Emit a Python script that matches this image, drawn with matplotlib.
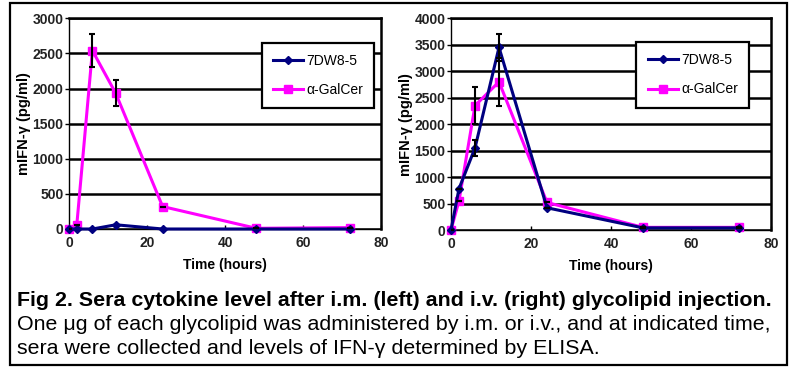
import matplotlib
matplotlib.use("Agg")
import matplotlib.pyplot as plt
from matplotlib.patches import Rectangle

plt.rcParams["font.family"] = ["Liberation Sans", "DejaVu Sans"]

# time points (hours)
hours = [0, 2, 6, 12, 24, 48, 72]

# i.m. injection (left)
im_7dw8 = [0, 0, 0, 60, 0, 0, 0]
im_galcer = [0, 60, 2540, 1930, 320, 10, 20]
im_galcer_err = [0, 0, 230, 185, 0, 0, 0]

# i.v. injection (right)
iv_7dw8 = [0, 780, 1550, 3450, 420, 40, 40]
iv_7dw8_err = [0, 0, 150, 250, 0, 0, 0]
iv_galcer = [0, 550, 2350, 2800, 520, 50, 50]
iv_galcer_err = [0, 0, 350, 450, 0, 0, 0]

series_names = ["7DW8-5", "α-GalCer"]
NAVY = "#000080"
MAGENTA = "#FF00FF"

caption_title = "Fig 2. Sera cytokine level after i.m. (left) and i.v. (right) glycolipid injection."
caption_body = ["One μg of each glycolipid was administered by i.m. or i.v., and at indicated time,",
                "sera were collected and levels of IFN-γ determined by ELISA."]

fig = plt.figure(figsize=(7.9, 3.68), dpi=100)
fig.patches.append(Rectangle((10 / 790, 3 / 368), 777 / 790, 362 / 368,
                             transform=fig.transFigure, fill=False,
                             edgecolor="black", lw=1.6))


def panel(rect, y7, ygc, e7, egc, ymax, leg_anchor):
    ax = fig.add_axes(rect)
    for y, e in [(y7, e7), (ygc, egc)]:
        if e is not None:
            ax.errorbar(hours, y, yerr=e, fmt="none", ecolor="black",
                        elinewidth=1.5, capsize=2.5, capthick=1.5, zorder=5)
    ax.plot(hours, y7, color=NAVY, lw=2.2, marker="D", ms=4.5,
            label=series_names[0], zorder=4, clip_on=False)
    ax.plot(hours, ygc, color=MAGENTA, lw=2.2, marker="s", ms=6,
            label=series_names[1], zorder=3, clip_on=False)
    ax.set_xlim(0, 80)
    ax.set_ylim(0, ymax)
    ax.set_xticks(range(0, 81, 20))
    ax.set_yticks(range(0, ymax + 1, 500))
    ax.yaxis.grid(True, color="black", lw=1.8)
    ax.set_axisbelow(True)
    for s in ["top", "right"]:
        ax.spines[s].set_linewidth(1.8)
    ax.spines["left"].set_linewidth(1.0)
    ax.spines["bottom"].set_linewidth(1.0)
    ax.tick_params(axis="y", direction="out", length=3, width=1, pad=1)
    ax.tick_params(axis="x", direction="in", length=3, width=1, pad=5)
    for lab in ax.get_xticklabels() + ax.get_yticklabels():
        lab.set_fontsize(10)
        lab.set_fontweight("bold")
        lab.set_color("#222222")
    ax.set_xlabel("Time (hours)", fontsize=10, fontweight="bold", labelpad=6)
    ax.set_ylabel("mIFN-γ (pg/ml)", fontsize=10.5, fontweight="bold", labelpad=1)
    leg = ax.legend(loc="upper right", bbox_to_anchor=leg_anchor, fontsize=10,
                    frameon=True, fancybox=False, framealpha=1, edgecolor="black",
                    borderpad=0.8, labelspacing=1.1, handlelength=2.2,
                    handletextpad=0.2, borderaxespad=0)
    leg.get_frame().set_linewidth(1.6)
    return ax


panel([69 / 790, 139 / 368, 312 / 790, 210.7 / 368],
      im_7dw8, im_galcer, None, im_galcer_err, 3000, (0.978, 0.883))
panel([451 / 790, 138 / 368, 320 / 790, 211.7 / 368],
      iv_7dw8, iv_galcer, iv_7dw8_err, iv_galcer_err, 4000, (0.931, 0.888))

fig.text(17 / 790, 1 - 300 / 368, caption_title, fontsize=15.4, fontweight="bold",
         va="center", ha="left")
fig.text(17 / 790, 1 - 325 / 368, caption_body[0], fontsize=15.4, va="center", ha="left")
fig.text(17 / 790, 1 - 348 / 368, caption_body[1], fontsize=15.4, va="center", ha="left")

fig.savefig("out.png", dpi=100)
